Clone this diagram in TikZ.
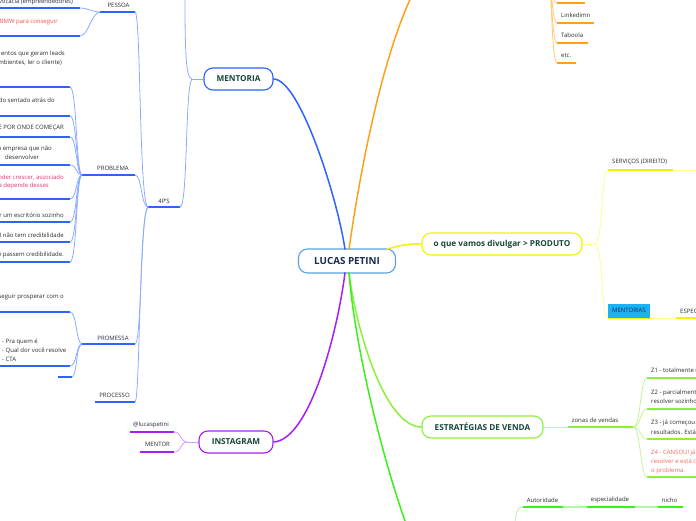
\documentclass[tikz,border=0pt]{standalone}
\usepackage{fontspec}
\setmainfont{Open Sans}
\definecolor{mblue}{HTML}{2E63FF}
\definecolor{lblue}{HTML}{8AACFF}
\definecolor{cblue}{HTML}{5AA2DE}
\definecolor{orng}{HTML}{FF9F1A}
\definecolor{lorng}{HTML}{FFC978}
\definecolor{yel}{HTML}{F2F200}
\definecolor{lyel}{HTML}{FFFF8A}
\definecolor{purp}{HTML}{A61EF5}
\definecolor{lpurp}{HTML}{D69CFF}
\definecolor{chart}{HTML}{8CF03A}
\definecolor{lchart}{HTML}{C2F59A}
\definecolor{grn}{HTML}{3CEE1E}
\definecolor{lgrn}{HTML}{B0F5A8}
\definecolor{txtg}{HTML}{17463A}
\definecolor{txtc}{HTML}{1A2C4E}
\definecolor{cyanbox}{HTML}{1AB2F5}
\definecolor{lbltxt}{HTML}{2B2B2B}
\definecolor{redA}{HTML}{F24E4E}
\definecolor{redB}{HTML}{E8316B}
\definecolor{redC}{HTML}{F2675A}
\begin{document}
\begin{tikzpicture}[x=1pt,y=-1pt,
  box/.style={draw, rounded corners=9pt, line width=1.1pt, fill=white, text=txtg,
    font=\bfseries\fontsize{8.2}{10}\selectfont, minimum height=22pt, inner sep=0pt},
  lbl/.style={font=\fontsize{6}{8}\selectfont, text=lbltxt, inner sep=0pt},
  ul/.style={line width=2.2pt},
  cn/.style={line width=0.8pt},
  br/.style={line width=1.5pt}]
\useasboundingbox (0,0) rectangle (696,520);
\clip (0,0) rectangle (696,520);

% ---------- main nodes ----------
\node[box, draw=cblue, text=txtc, minimum width=97pt, minimum height=24pt,
  font=\bfseries\fontsize{9.8}{11}\selectfont] (c) at (347,261) {LUCAS PETINI};
\node[box, draw=mblue, minimum width=69pt] (m) at (238.5,79) {MENTORIA};
\node[box, draw=yel, minimum width=160pt] (p) at (502,244) {o que vamos divulgar > PRODUTO};
\node[box, draw=chart, minimum width=121pt] (e) at (482.5,427) {ESTRATÉGIAS DE VENDA};
\node[box, draw=purp, minimum width=74pt] (i) at (236,442) {INSTAGRAM};

\coordinate (cT1) at (345,249.5);
\coordinate (cT2) at (349,249.5);
\coordinate (cY) at (387,249.2);
\coordinate (cB1) at (345,272.5);
\coordinate (cB2) at (349,272.5);
\coordinate (otop) at (420,-20);
\coordinate (gbot) at (412,540);

% ---------- main branches ----------
\draw[mblue, br] (cT1) .. controls (338,200) and (300,79) .. (m.east);
\draw[orng, br] (cT2) .. controls (360,170) and (385,40) .. (otop);
\draw[yel, br] (cY) .. controls (400,245) and (410,243.5) .. (p.west);
\draw[purp, br] (cB1) .. controls (338,330) and (310,440) .. (i.east);
\draw[chart, br] (cB2) .. controls (356,330) and (385,427) .. (e.west);
\draw[grn, br] (cB2) .. controls (355,350) and (385,470) .. (gbot);

% ---------- MENTORIA subtree ----------
\coordinate (mf) at (192,79);
\coordinate (mup) at (185,-10);
\draw[lblue, cn] (m.west) -- (mf);
\draw[lblue, cn] (mf) .. controls (185,79) and (185,40) .. (mup);

\node[lbl] (t4p) at (164,201) {4P'S};
\coordinate (p4l) at (148,207); \coordinate (p4r) at (180,207);
\draw[mblue, ul] (p4l) -- (p4r);
\draw[lblue, cn] (p4r) .. controls (188,207) and (185,85) .. (mf);

\node[lbl] (tpes) at (118.5,5) {PESSOA};
\coordinate (pesl) at (100,12); \coordinate (pesr) at (135,12);
\draw[mblue, ul] (pesl) -- (pesr);
\draw[lblue, cn] (pesr) .. controls (141,12) and (139,205) .. (p4l);

\node[lbl] (tprob) at (113,168) {PROBLEMA};
\coordinate (probl) at (82,175); \coordinate (probr) at (135,175);
\draw[mblue, ul] (probl) -- (probr);
\draw[lblue, cn] (probr) .. controls (142,175) and (141,207) .. (p4l);

\node[lbl] (tprom) at (113,338) {PROMESSA};
\coordinate (proml) at (82,344); \coordinate (promr) at (135,344);
\draw[mblue, ul] (proml) -- (promr);
\draw[lblue, cn] (promr) .. controls (142,344) and (140,212) .. (p4l);

\node[lbl] (tproc) at (114.5,395) {PROCESSO};
\coordinate (procl) at (95,402); \coordinate (procr) at (135,402);
\draw[mblue, ul] (procl) -- (procr);
\draw[lblue, cn] (procr) .. controls (140,402) and (139,215) .. (p4l);

% PESSOA children
\node[lbl, anchor=east] (s1) at (73,2) {vocacia (empreendedores)};
\coordinate (s1l) at (-5,8); \coordinate (s1r) at (80,8);
\draw[mblue, ul] (s1l) -- (s1r);
\draw[lblue, cn] (s1r) .. controls +(8,0) and +(-8,0) .. (pesl);
\node[lbl, anchor=east, text=redA] (s2) at (58,22) {BMW para conseguir};
\coordinate (s2l) at (-5,36); \coordinate (s2r) at (80,36);
\draw[mblue, ul] (s2l) -- (s2r);
\draw[lblue, cn] (s2r) .. controls +(8,0) and +(-8,0) .. (pesl);

% PROBLEMA children
\node[lbl, anchor=east] (b1a) at (65,54) {entos que geram leads};
\node[lbl, anchor=east] (b1b) at (62,63) {mbientes, ler o cliente)};
\node[lbl, anchor=east] (b2) at (55,100) {do sentado atrás do};
\node[lbl, anchor=east] (b3) at (64,128) {E POR ONDE COMEÇAR};
\node[lbl, anchor=east] (b4a) at (52,149) {a empresa que não};
\node[lbl, anchor=west] (b4b) at (5,157) {desenvolver};
\node[lbl, anchor=east, text=redB] (b5a) at (64,178) {oder crescer, associado};
\node[lbl, anchor=east, text=redB] (b5b) at (49,186) {a depende desses};
\node[lbl, anchor=east] (b6) at (64,215) {r um escritório sozinho};
\node[lbl, anchor=east] (b7) at (64,235) {M não tem credibilidade};
\node[lbl, anchor=east] (b8) at (64,255) {e passem credibilidade.};
\foreach \yy/\nm in {87/u1,116/u2,137/u3,165/u4,199/u5,222/u6,242/u7,262/u8}{
  \coordinate (\nm l) at (-5,\yy); \coordinate (\nm r) at (70,\yy);
  \draw[mblue, ul] (\nm l) -- (\nm r);
  \draw[lblue, cn] (\nm r) .. controls +(7,0) and +(-6,0) .. (probl);
}

% PROMESSA children
\node[lbl, anchor=east] (r1) at (64,297) {seguir prosperar com o};
\node[lbl, anchor=west] (r2a) at (2,342) {- Pra quem é};
\node[lbl, anchor=west] (r2b) at (2,350.5) {- Qual dor você resolve};
\node[lbl, anchor=west] (r2c) at (2,359) {- CTA};
\coordinate (r1l) at (-5,312); \coordinate (r1r) at (70,312);
\coordinate (r2l) at (-5,366); \coordinate (r2r) at (70,366);
\coordinate (r3l) at (58,377); \coordinate (r3r) at (72,377);
\draw[mblue, ul] (r1l) -- (r1r);
\draw[mblue, ul] (r2l) -- (r2r);
\draw[mblue, ul] (r3l) -- (r3r);
\draw[lblue, cn] (r1r) .. controls +(7,0) and +(-6,0) .. (proml);
\draw[lblue, cn] (r2r) .. controls +(7,0) and +(-6,0) .. (proml);
\draw[lblue, cn] (r3r) .. controls +(5,0) and +(-6,0) .. (proml);

% ---------- INSTAGRAM subtree ----------
\coordinate (ifk) at (187,442);
\draw[lpurp, cn] (i.west) -- (ifk);
\node[lbl] (ig1) at (151,424.5) {@lucaspetini};
\coordinate (ig1l) at (130,432); \coordinate (ig1r) at (174,432);
\draw[purp, ul] (ig1l) -- (ig1r);
\draw[lpurp, cn] (ig1r) .. controls +(8,0) and +(-7,0) .. (ifk);
\node[lbl] (ig2) at (157.5,444.5) {MENTOR};
\coordinate (ig2l) at (140,452); \coordinate (ig2r) at (174,452);
\draw[purp, ul] (ig2l) -- (ig2r);
\draw[lpurp, cn] (ig2r) .. controls +(8,0) and +(-7,0) .. (ifk);

% ---------- orange subtree (top right) ----------
\coordinate (ofk) at (547,-30);
\foreach \yy/\xe/\nm in {3/585/o0,23/594/o1,43/588/o2,63/576/o3}{
  \coordinate (\nm l) at (557,\yy); \coordinate (\nm r) at (\xe,\yy);
  \draw[lorng, cn] (ofk) .. controls +(5,0) and +(-6,0) .. (\nm l);
  \draw[orng, ul] (\nm l) -- (\nm r);
}
\node[lbl, anchor=west] (ot1) at (561,15.5) {Linkedimn};
\node[lbl, anchor=west] (ot2) at (561,35.5) {Taboola};
\node[lbl, anchor=west] (ot3) at (561,55.5) {etc.};

% ---------- PRODUTO subtree ----------
\coordinate (pfk) at (595,244);
\draw[lyel, cn] (p.east) -- (pfk);
\coordinate (svl) at (608,170); \coordinate (svr) at (673,170); \coordinate (svx) at (700,170);
\draw[lyel, cn] (pfk) .. controls +(8,0) and +(-7,0) .. (svl);
\draw[yel, ul] (svl) -- (svr);
\draw[lyel, cn] (svr) -- (svx);
\node[lbl, anchor=west] (sv) at (612,162.5) {SERVIÇOS (DIREITO)};

\coordinate (mtl) at (608,318); \coordinate (mtr) at (650,318);
\coordinate (esl) at (676,318); \coordinate (esr) at (700,318);
\draw[lyel, cn] (pfk) .. controls +(8,0) and +(-7,0) .. (mtl);
\draw[yel, ul] (mtl) -- (mtr);
\draw[lyel, cn] (mtr) -- (esl);
\draw[yel, ul] (esl) -- (esr);
\node[fill=cyanbox, minimum width=42pt, minimum height=14pt, inner sep=0pt,
  font=\fontsize{6}{8}\selectfont, text=txtc] (mt) at (629,310.5) {MENTORIAS};
\node[lbl, anchor=west] (es) at (680,311) {ESPEC};

% ---------- ESTRATEGIAS subtree ----------
\coordinate (zvl) at (568,427); \coordinate (zvr) at (633,427);
\draw[lchart, cn] (e.east) -- (zvl);
\draw[chart, ul] (zvl) -- (zvr);
\node[lbl] (zv) at (595,420) {zonas de vendas};
\foreach \yy/\nm in {378/z1,409/z2,439/z3,477/z4}{
  \coordinate (\nm l) at (647,\yy); \coordinate (\nm r) at (700,\yy);
  \draw[lchart, cn] (zvr) .. controls +(8,0) and +(-7,0) .. (\nm l);
  \draw[chart, ul] (\nm l) -- (\nm r);
}
\node[lbl, anchor=west] (z1t) at (651,370.5) {Z1 - totalmente i};
\node[lbl, anchor=west] (z2a) at (651,392.5) {Z2 - parcialment};
\node[lbl, anchor=west] (z2b) at (651,401.5) {resolver sozinho};
\node[lbl, anchor=west] (z3a) at (651,423) {Z3 - já começou};
\node[lbl, anchor=west] (z3b) at (651,432) {resultados. Está};
\node[lbl, anchor=west, text=redC] (z4a) at (651,452.5) {Z4 - CANSOU! já};
\node[lbl, anchor=west, text=redC] (z4b) at (651,461.5) {resolver e está c};
\node[lbl, anchor=west, text=redC] (z4c) at (651,470.5) {o problema.};

% ---------- bottom green ----------
\coordinate (gfk) at (514,540);
\coordinate (aul) at (523,507); \coordinate (aur) at (563,507);
\coordinate (eul) at (587,507); \coordinate (eur) at (635,507);
\coordinate (nul) at (658,507); \coordinate (nur) at (683,507);
\draw[lgrn, cn] (gfk) .. controls (515,512) and (517,507) .. (aul);
\draw[grn, ul] (aul) -- (aur);
\draw[lgrn, ul] (aur) -- (eul);
\draw[grn, ul] (eul) -- (eur);
\draw[lgrn, ul] (eur) -- (nul);
\draw[grn, ul] (nul) -- (nur);
\node[lbl] (au) at (542.5,500) {Autoridade};
\node[lbl] (esp) at (610,500) {especialidade};
\node[lbl] (ni) at (669.5,500) {nicho};
\end{tikzpicture}
\end{document}
